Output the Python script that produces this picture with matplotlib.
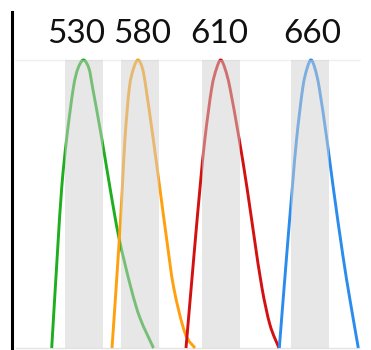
import numpy as np
import matplotlib
matplotlib.use("Agg")
import matplotlib.pyplot as plt
from matplotlib.path import Path
from matplotlib.patches import PathPatch

# Peak labels and their horizontal positions
labels = ["530", "580", "610", "660"]
label_x = [65, 131, 208, 301]

# Shaded bands behind each peak (centre and width along the x axis)
band_centers = [72.5, 128.5, 209.5, 298.5]
band_width = 38

# Response curves (x position, relative response)
green_x = [40.2, 45.8, 50.2, 55.2, 61.8, 66.4, 72.0, 77.5, 81.2, 90.2, 98.5, 107.5, 119.5, 128.5, 142.0]
green_y = [0.0, 0.323, 0.556, 0.729, 0.902, 0.97, 1.0, 0.97, 0.902, 0.729, 0.556, 0.382, 0.208, 0.104, 0.0]

orange_x = [100.5, 106.8, 110.8, 113.5, 117.8, 122.0, 126.5, 131.0, 134.5, 141.6, 148.3, 155.0, 162.3, 173.5, 183.5]
orange_y = [0.0, 0.323, 0.556, 0.729, 0.902, 0.97, 1.0, 0.97, 0.902, 0.729, 0.556, 0.382, 0.208, 0.052, 0.0]

red_x = [174.5, 182.5, 188.5, 193.5, 200.2, 205.0, 209.2, 213.5, 218.5, 227.5, 235.5, 242.8, 250.5, 258.5, 267.5]
red_y = [0.0, 0.323, 0.556, 0.729, 0.902, 0.97, 1.0, 0.97, 0.902, 0.729, 0.556, 0.382, 0.208, 0.08, 0.0]

blue_x = [267.8, 275.2, 280.8, 285.2, 291.2, 295.5, 299.5, 303.5, 307.8, 315.2, 321.8, 331.3, 338.5, 346.8]
blue_y = [0.0, 0.323, 0.556, 0.729, 0.902, 0.97, 1.0, 0.97, 0.902, 0.729, 0.556, 0.323, 0.167, 0.0]

curves = [
    (green_x, green_y, "#1fae1f"),
    (orange_x, orange_y, "#ffa00e"),
    (red_x, red_y, "#d41111"),
    (blue_x, blue_y, "#2b8cee"),
]


def smooth_path(xs, ys):
    """Catmull-Rom spline through the given points as a cubic Bezier path."""
    p = np.column_stack([xs, ys]).astype(float)
    ext = np.vstack([p[0], p, p[-1]])
    verts = [p[0]]
    codes = [Path.MOVETO]
    for i in range(1, len(ext) - 2):
        p0, p1, p2, p3 = ext[i - 1], ext[i], ext[i + 1], ext[i + 2]
        c1 = p1 + (p2 - p0) / 6.0
        c2 = p2 - (p3 - p1) / 6.0
        verts += [c1, c2, p2]
        codes += [Path.CURVE4] * 3
    return Path(verts, codes)


fig = plt.figure(figsize=(3.71, 3.5), dpi=100)
ax = fig.add_axes([11.5 / 371, 0, 1 - 11.5 / 371, 1 - 12 / 350])
ax.set_xlim(0, 359.5)
ax.set_ylim(-2 / 288, 1 + 48 / 288)

for s in ("top", "right", "bottom"):
    ax.spines[s].set_visible(False)
ax.spines["left"].set_color("black")
ax.spines["left"].set_linewidth(2.2)
ax.set_xticks([])
ax.set_yticks([])

# faint frame lines at top and bottom of the plotting region
ax.hlines([1.0], 3.5, 348.5, color="#efefef", lw=1.0, zorder=1)
ax.hlines([0.0], 3.5, 348.5, color="#e4e4e4", lw=1.0, zorder=1)

for xs, ys, c in curves:
    ax.add_patch(PathPatch(smooth_path(xs, ys), fill=False, edgecolor=c,
                           lw=2.1, zorder=2, capstyle="butt"))

# translucent bands laid over the curves
ax.bar(band_centers, [1.0] * len(band_centers), width=band_width, bottom=0,
       color="#d0d0d0", alpha=0.5, zorder=3, linewidth=0)

for lab, x in zip(labels, label_x):
    ax.text(x, 1.058, lab, ha="center", va="baseline", fontsize=24,
            family=["Lato", "DejaVu Sans"], color="#111111")

fig.savefig("out.png", dpi=100)
